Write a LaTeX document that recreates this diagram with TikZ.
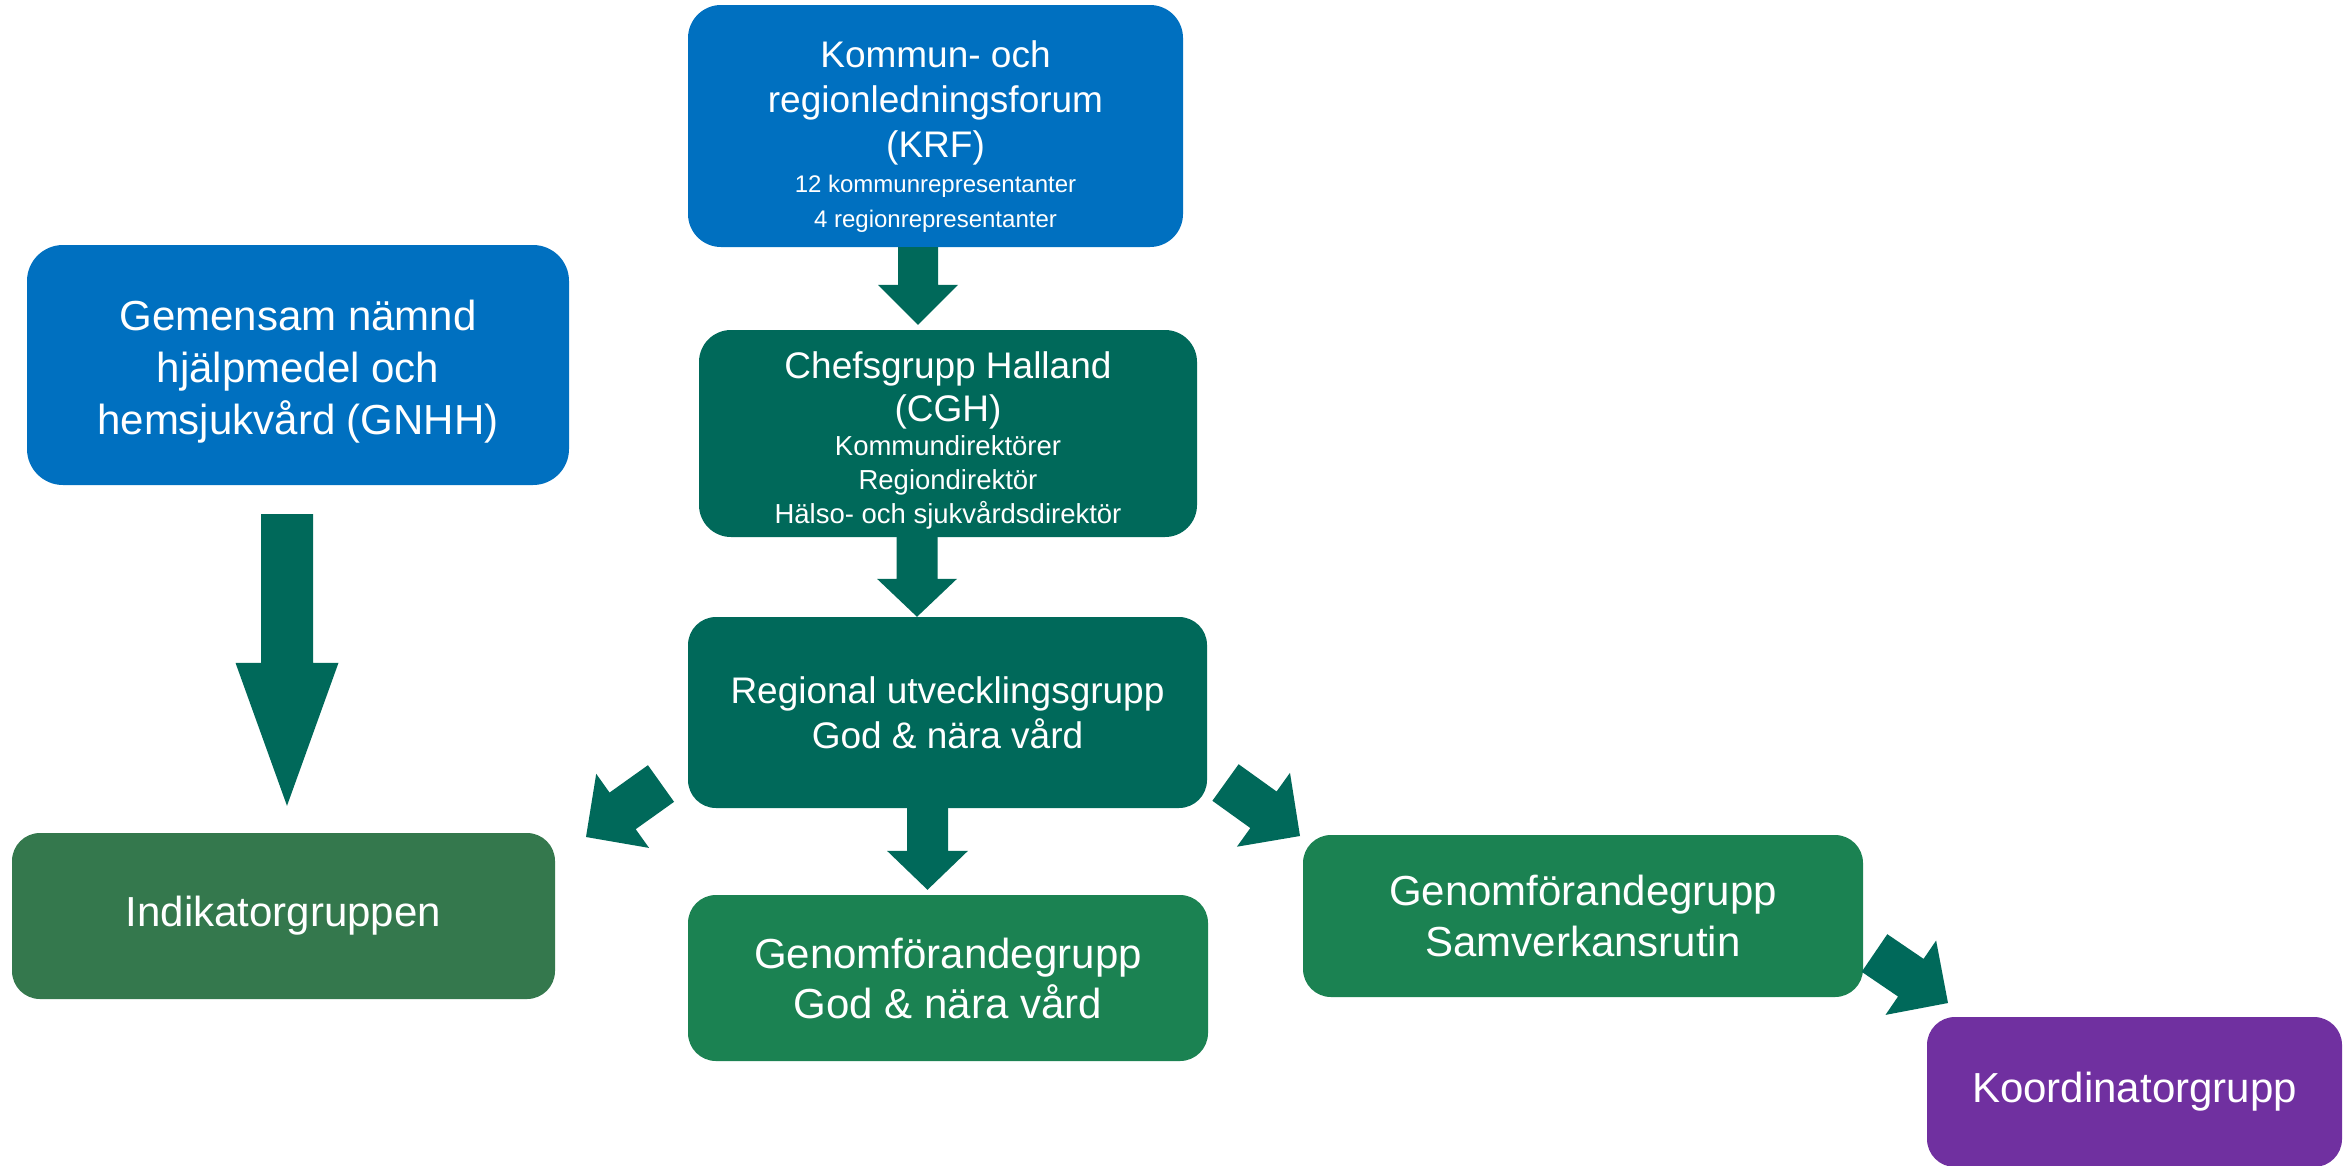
\documentclass[tikz,border=0pt]{standalone}
\usepackage{fontspec}
\setmainfont{Liberation Sans}
\usetikzlibrary{calc}
\definecolor{cblue}{HTML}{0070C0}
\definecolor{cteal}{HTML}{00695A}
\definecolor{cind}{HTML}{34784D}
\definecolor{cgreen}{HTML}{1B8252}
\definecolor{cpurple}{HTML}{7030A0}
\newcommand{\sz}[2]{\fontsize{#1}{#2}\selectfont\spaceskip=\fontdimen2\font\relax\xspaceskip=\fontdimen2\font\relax}
\newcommand{\blkarrow}[5]{%
  \coordinate (ba-h) at ($(#2)!#5pt!(#1)$);
  \fill[cteal] ($(#1)!#3pt!90:(#2)$) -- ($(ba-h)!#3pt!90:(#2)$) -- ($(ba-h)!#4pt!90:(#2)$) -- (#2)
    -- ($(ba-h)!#4pt!-90:(#2)$) -- ($(ba-h)!#3pt!-90:(#2)$) -- ($(#1)!#3pt!-90:(#2)$) -- cycle;}
\tikzset{
  box/.style={rectangle, rounded corners=28pt, text=white, align=center, inner sep=0pt},
}
\begin{document}
\begin{tikzpicture}[x=1pt,y=-1pt]
\useasboundingbox (0,0) rectangle (2351,1165);
\fill[white] (0,0) rectangle (2351,1165);

% nodes
\node[box, fill=cblue, rounded corners=33pt, minimum width=495pt, minimum height=242pt, text width=495pt] (krf) at (935.5,126)
  {\sz{37}{45}\rule{0pt}{47pt}Kommun- och\\regionledningsforum\\(KRF)\par
   \sz{24}{35}12 kommunrepresentanter\\4 regionrepresentanter\par};
\node[box, fill=cteal, rounded corners=32pt, minimum width=498pt, minimum height=207pt, text width=498pt] (cgh) at (948,433.5)
  {\sz{37}{43}\rule{0pt}{40pt}Chefsgrupp Halland\\(CGH)\par
   \sz{27.5}{34}Kommundirektörer\\Regiondirektör\\Hälso- och sjukvårdsdirektör\par};
\node[box, fill=cteal, minimum width=519pt, minimum height=191pt, text width=519pt] (rug) at (947.5,712.5)
  {\sz{37}{45}Regional utvecklingsgrupp\\God \& nära vård\par};
\node[box, fill=cgreen, minimum width=520pt, minimum height=166pt, text width=520pt] (gfg) at (948,978)
  {\sz{42}{50}Genomförandegrupp\\God \& nära vård\par};
\node[box, fill=cblue, rounded corners=36pt, minimum width=542pt, minimum height=240pt, text width=542pt] (gnhh) at (298,365)
  {\sz{42}{52}\rule{0pt}{44pt}Gemensam nämnd\\hjälpmedel och\\hemsjukvård (GNHH)\par};
\node[box, fill=cind, minimum width=543pt, minimum height=166pt, text width=543pt] (ind) at (283.5,916)
  {\sz{42}{51}Indikatorgruppen\par};
\node[box, fill=cgreen, minimum width=560pt, minimum height=162pt, text width=560pt] (gfs) at (1583,916)
  {\sz{42}{51}Genomförandegrupp\\Samverkansrutin\par};
\node[box, fill=cpurple, minimum width=415pt, minimum height=150pt, text width=415pt] (koord) at (2134.5,1092)
  {\sz{42}{51}Koordinatorgrupp\par};

% arrow end points
\coordinate (a1s) at ($(krf.south)+(-17.5,0)$);
\coordinate (a1t) at ($(cgh.north)+(-30,-5)$);
\coordinate (a2s) at ($(cgh.south)+(-31,0)$);
\coordinate (a2t) at ($(rug.north)+(-30.5,0)$);
\coordinate (a3s) at ($(rug.south)+(-20,0)$);
\coordinate (a3t) at ($(gfg.north)+(-20.5,-5)$);
\coordinate (a4s) at (287,514);
\coordinate (a4t) at ($(ind.north)+(3.5,-27)$);
\coordinate (a5s) at (661,783.5);
\coordinate (a5t) at (586,837);
\coordinate (a6s) at (1225.5,782.5);
\coordinate (a6t) at (1300,836);
\coordinate (a7s) at (1874.5,953);
\coordinate (a7t) at (1948,1003);

\blkarrow{a1s}{a1t}{20}{40}{40}
\blkarrow{a2s}{a2t}{20.5}{40}{38}
\blkarrow{a3s}{a3t}{20.5}{40.5}{39}
\blkarrow{a4s}{a4t}{26}{51.5}{143}
\blkarrow{a5s}{a5t}{22.5}{45.5}{45}
\blkarrow{a6s}{a6t}{22.5}{45.5}{45}
\blkarrow{a7s}{a7t}{22.75}{45}{45}
\end{tikzpicture}
\end{document}
